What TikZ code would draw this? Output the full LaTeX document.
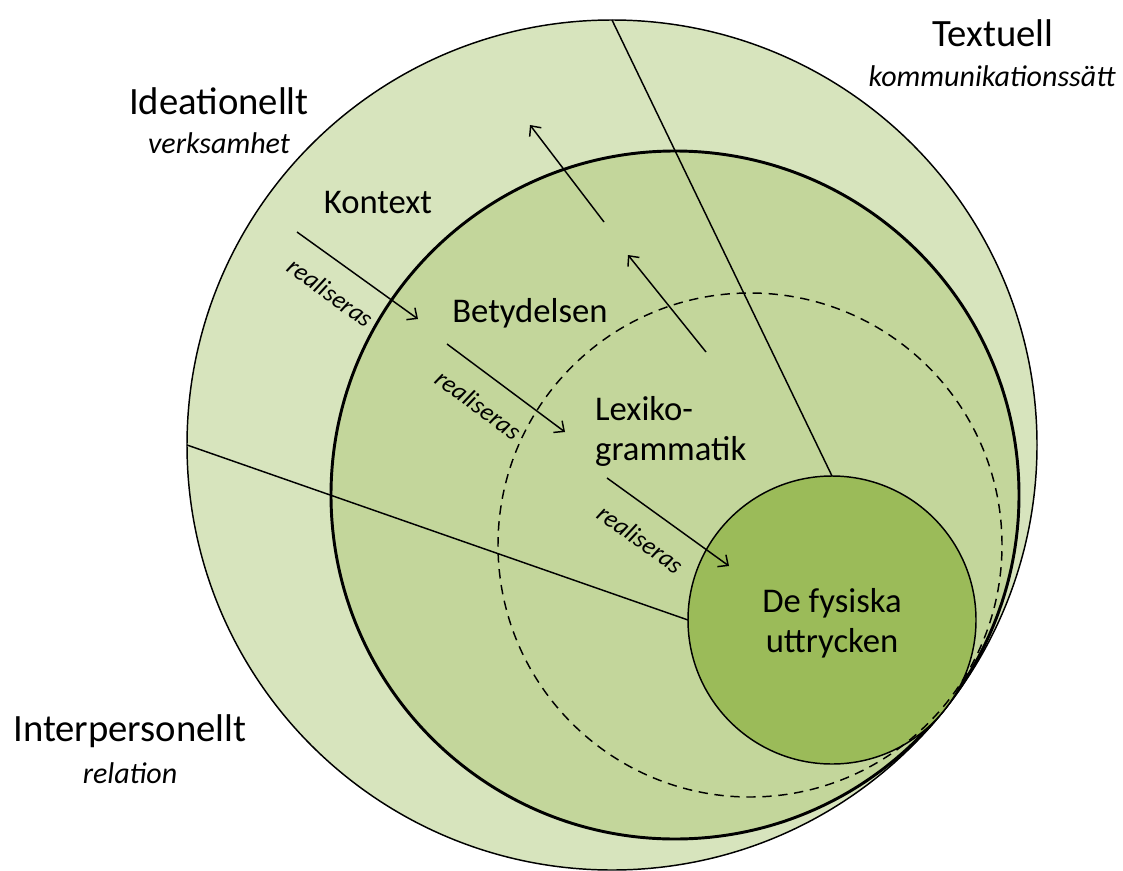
\documentclass[tikz,border=0pt]{standalone}
\usepackage{fontspec}
\setmainfont{Carlito}
\usetikzlibrary{arrows.meta,positioning}

\definecolor{ringout}{RGB}{215,228,189}
\definecolor{ringmid}{RGB}{195,214,155}
\definecolor{ringin}{RGB}{155,187,89}

\tikzset{
  ring/.style={circle, draw=black, inner sep=0pt, outer sep=0pt, minimum size=#1*1.5pt},
  big/.style={font=\fontsize{29}{34}\selectfont},
  mid/.style={font=\fontsize{26}{30}\selectfont, align=center},
  sub/.style={font=\fontsize{22.5}{26}\selectfont\itshape},
  rl/.style={font=\fontsize{19}{22}\selectfont\itshape, inner sep=2pt}
}

\begin{document}
\begin{tikzpicture}[x=0.75pt, y=-0.75pt, line width=1.1pt, >={Straight Barb[length=6pt,width=11pt]}]
            \useasboundingbox (0,0) rectangle (1123,870);

            % rings, all touching at the lower right
            \node[ring=425, fill=ringout] (outer) at (612,445) {};
            \node[ring=344, fill=ringmid, line width=2.2pt] (betyd) at (675,495) {};
            \node[ring=144, fill=ringin] (uttr) at (832,620) {};

            % metafunction borders
            \draw (outer.north) -- (uttr.north);
            \draw (outer.west) -- (uttr.west);

            \node[ring=252, dashed, dash pattern=on 7pt off 5pt] (lexik) at (750,545) {};

            % metafunctions
            \node[big] (textuell) at (993,33) {Textuell};
            \node[sub] (komm) at (992,76) {kommunikationssätt};
            \node[big] (ideat) at (219,101) {Ideationellt};
            \node[sub] (verks) at (219,143) {verksamhet};
            \node[big] (interp) at (130,731) {Interpersonellt};
            \node[sub] (rel) at (130,773) {relation};

            % strata
            \node[mid] (kontext) at (378,203) {Kontext};
            \node[mid] (betydelsen) at (530,313) {Betydelsen};
            \node[mid, align=left, anchor=west] (lexgram) at (590,431) {Lexiko-\\grammatik};
            \node[mid] (fysiska) at (832,623) {De fysiska\\uttrycken};

            % realiseras
            \coordinate (r1a) at (297,232);
            \coordinate (r1b) at (418,319);
            \coordinate (r2a) at (447,344);
            \coordinate (r2b) at (565,432);
            \coordinate (r3a) at (607,478);
            \coordinate (r3b) at (729,566);
            \draw[->] (r1a) -- node[rl, sloped, below=13pt, pos=0.42] {realiseras} (r1b);
            \draw[->] (r2a) -- node[rl, sloped, below=13pt, pos=0.42] {realiseras} (r2b);
            \draw[->] (r3a) -- node[rl, sloped, below=13pt, pos=0.42] {realiseras} (r3b);

            % upwards
            \coordinate (u1a) at (604,222);
            \coordinate (u1b) at (530,125);
            \coordinate (u2a) at (706,352);
            \coordinate (u2b) at (628,255);
            \draw[->] (u1a) -- (u1b);
            \draw[->] (u2a) -- (u2b);
        \end{tikzpicture}
\end{document}
